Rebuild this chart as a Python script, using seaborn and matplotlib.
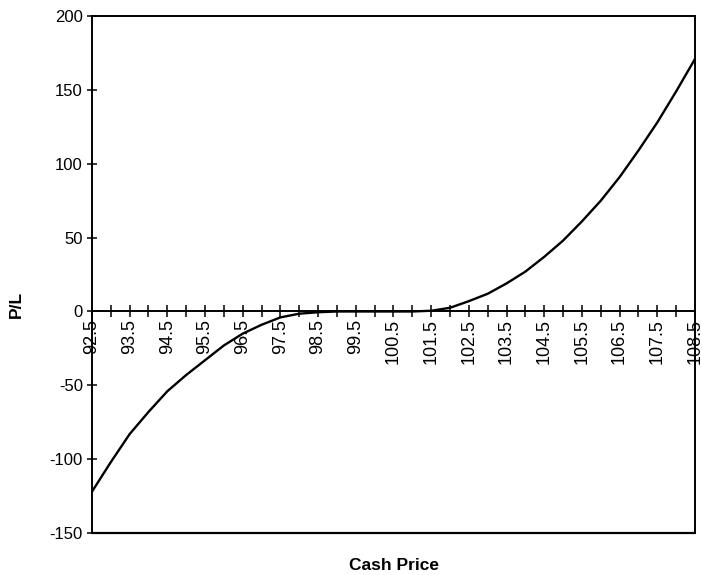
import numpy as np
import pandas as pd
import matplotlib
matplotlib.use("Agg")
import matplotlib.pyplot as plt
import seaborn as sns

sns.set_style("white")
plt.rcParams['font.family'] = ['Liberation Sans', 'DejaVu Sans']
plt.rcParams['text.color'] = 'black'
plt.rcParams['xtick.color'] = 'black'
plt.rcParams['ytick.color'] = 'black'

# Cash price grid (0.5 steps) and profit/loss
cash_price = [92.5, 93.0, 93.5, 94.0, 94.5, 95.0, 95.5, 96.0, 96.5, 97.0, 97.5,
              98.0, 98.5, 99.0, 99.5, 100.0, 100.5, 101.0, 101.5, 102.0, 102.5,
              103.0, 103.5, 104.0, 104.5, 105.0, 105.5, 106.0, 106.5, 107.0,
              107.5, 108.0, 108.5]
pl = [-122, -102, -83, -68, -54, -43, -33, -23, -15, -9, -4,
      -1.5, -0.5, 0, 0, 0, 0, 0, 0.5, 2.5, 7,
      12, 19, 27, 37, 48, 61, 75, 91, 109,
      128, 149, 171]
label_ticks = [92.5, 93.5, 94.5, 95.5, 96.5, 97.5, 98.5, 99.5, 100.5, 101.5,
               102.5, 103.5, 104.5, 105.5, 106.5, 107.5, 108.5]
y_ticks = [-150, -100, -50, 0, 50, 100, 150, 200]

df = pd.DataFrame({'Cash Price': cash_price, 'P/L': pl})

fig = plt.figure(figsize=(7.02, 5.75), dpi=100)
ax = fig.add_axes([0.131, 0.073, 0.859, 0.899])

sns.lineplot(data=df, x='Cash Price', y='P/L', color='black', linewidth=1.7, ax=ax)

ax.set_xlim(cash_price[0], cash_price[-1])
ax.set_ylim(y_ticks[0], y_ticks[-1])

# x axis runs through zero, frame kept around the plot area
ax.spines['bottom'].set_position(('data', 0))
ax.axhline(y_ticks[0], color='black', linewidth=1.6, clip_on=False)
for s in ['left', 'right', 'top', 'bottom']:
    ax.spines[s].set_color('black')
    ax.spines[s].set_linewidth(1.4)

ax.set_xticks(label_ticks)
ax.set_xticklabels([f"{v:.1f}" for v in label_ticks], rotation=90, fontsize=13)
ax.set_xticks([v + 0.5 for v in label_ticks[:-1]], minor=True)
ax.tick_params(axis='x', which='both', direction='inout', length=9, width=1.1,
               color='black', pad=1, bottom=True)
ax.set_yticks(y_ticks)
ax.set_yticklabels([str(v) for v in y_ticks], fontsize=12)
ax.tick_params(axis='y', direction='inout', length=7, width=1.1, color='black',
               left=True, pad=3)

ax.set_xlabel('')
ax.set_ylabel('')
fig.text(0.023, 0.47, 'P/L', rotation=90, ha='center', va='center',
         fontsize=12.5, fontweight='bold')
fig.text(0.561, 0.016, 'Cash Price', ha='center', va='center',
         fontsize=12.5, fontweight='bold')

fig.savefig('out.png', dpi=100)
